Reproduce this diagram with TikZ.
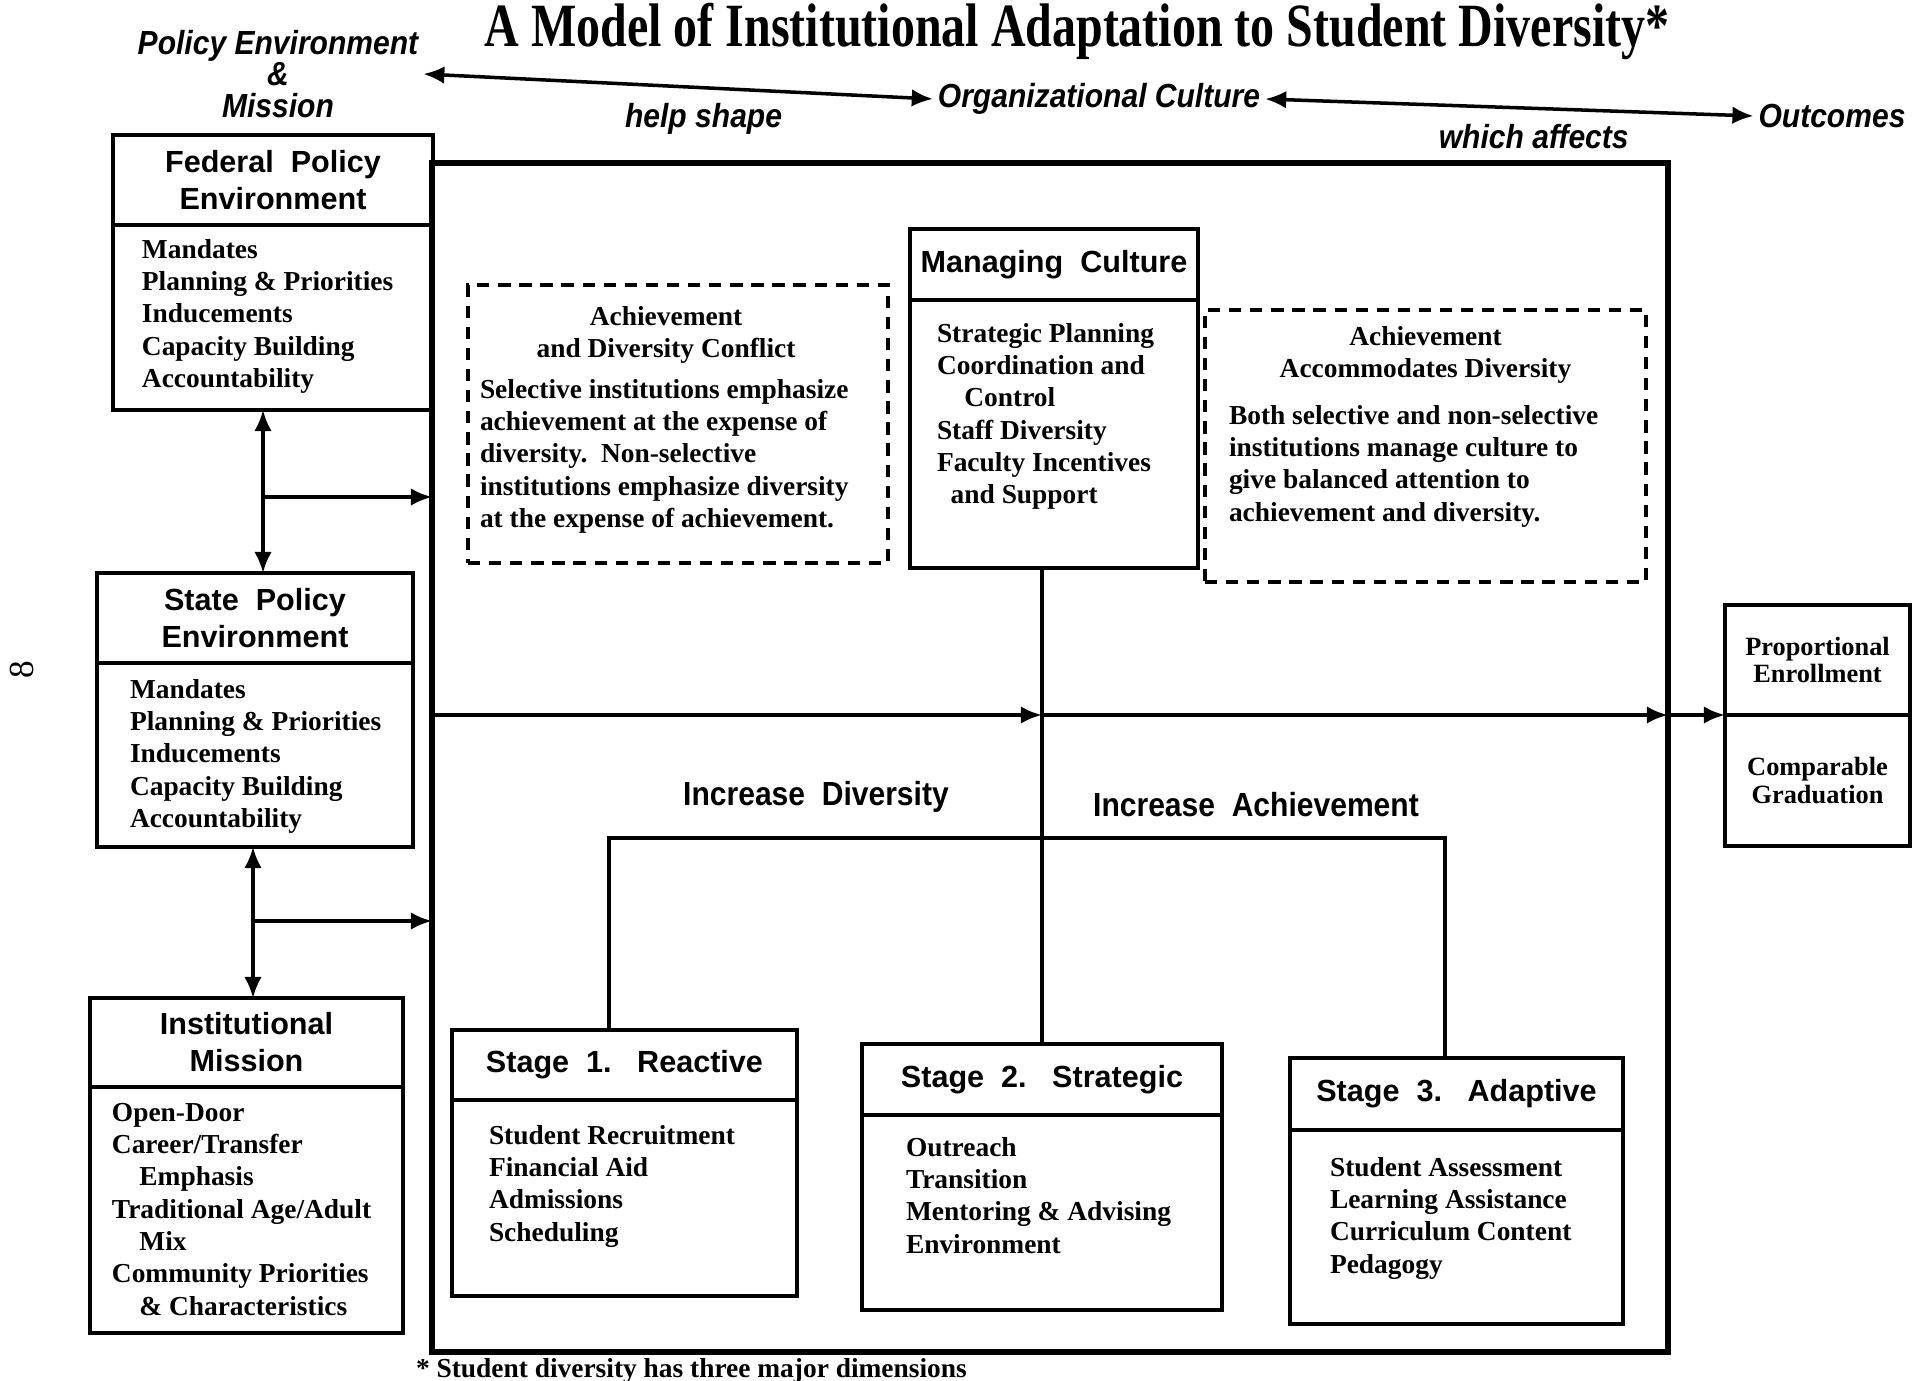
\documentclass[tikz,border=0pt]{standalone}
\usepackage{fontspec}
\setmainfont{Liberation Serif}
\newfontfamily\headfont{Liberation Sans}
\newfontfamily\tagfont[FakeStretch=0.9]{Liberation Sans}
\newfontfamily\titlefont[FakeStretch=0.78]{Liberation Serif}
\usetikzlibrary{positioning,arrows.meta}
\tikzstyle{every node}+=[inner sep=0.5mm,outer sep=0pt]
\tikzstyle{every path}+=[line width=1pt]
\tikzstyle{box}=[draw,line width=1.2pt,inner sep=0pt]
\tikzstyle{head}=[box,align=center,font=\headfont\bfseries\fontsize{8.7}{10.5}\selectfont]
\tikzstyle{items}=[inner sep=0pt,align=left,font=\bfseries\fontsize{7.8}{9.2}\selectfont]
\tikzstyle{note}=[draw,line width=1.1pt,dash pattern=on 3.5pt off 2.5pt,inner sep=0pt]
\tikzstyle{tag}=[font=\tagfont\bfseries\itshape\fontsize{9.5}{8.9}\selectfont]
\tikzstyle{tagup}=[font=\tagfont\bfseries\fontsize{9.5}{11}\selectfont]
\tikzstyle{arr}=[-{Latex[length=6pt,width=5pt]}]
\tikzstyle{dbl}=[{Latex[length=6pt,width=5pt]}-{Latex[length=6pt,width=5pt]}]

\begin{document}
\begin{tikzpicture}[x=1cm,y=-1cm]
\useasboundingbox (0,0) rectangle (19.16,13.81);

\node[font=\titlefont\bfseries\fontsize{17.5}{20}\selectfont,anchor=base] (title) at (10.77,0.47) {A Model of Institutional Adaptation to Student Diversity*};

\node[tag,align=center] (pol) at (2.78,0.74) {Policy Environment\\\&\\Mission};
\node[tag] (org) at (10.99,0.99) {Organizational Culture};
\node[tag] (out) at (18.32,1.16) {Outcomes};
\draw[dbl] (pol.east) -- (org.west) node[tag,pos=0.55,below=3pt] (help) {help shape};
\draw[dbl] (org.east) -- (out.west) node[tag,pos=0.55,below=3pt] (aff) {which affects};

\node[rotate=90,font=\fontsize{10}{12}\selectfont] (pg) at (0.22,6.70) {8};

\node[box,line width=1.5pt,minimum width=12.36cm,minimum height=11.89cm] (frame) at (10.50,7.575) {};

\node[head,minimum width=3.2cm,minimum height=0.9cm] (fedh) at (2.73,1.80) {Federal\ \ Policy\\Environment};
\node[box,minimum width=3.2cm,minimum height=1.85cm,below=0pt of fedh] (fed) {};
\node[items,below right=0.14cm and 0.29cm of fed.north west] (fedl) {Mandates\\Planning \& Priorities\\Inducements\\Capacity Building\\Accountability};

\node[head,minimum width=3.16cm,minimum height=0.9cm] (sth) at (2.55,6.18) {State\ \ Policy\\Environment};
\node[box,minimum width=3.16cm,minimum height=1.84cm,below=0pt of sth] (st) {};
\node[items,below right=0.16cm and 0.33cm of st.north west] (stl) {Mandates\\Planning \& Priorities\\Inducements\\Capacity Building\\Accountability};

\node[head,minimum width=3.13cm,minimum height=0.89cm] (insth) at (2.465,10.425) {Institutional\\Mission};
\node[box,minimum width=3.13cm,minimum height=2.46cm,below=0pt of insth] (inst) {};
\node[items,below right=0.16cm and 0.22cm of inst.north west] (instl) {Open-Door\\Career/Transfer\\\quad Emphasis\\Traditional Age/Adult\\\quad Mix\\Community Priorities\\\quad\& Characteristics};

\coordinate (j1) at (2.63,4.97);
\draw[dbl] (fed.south -| j1) -- (sth.north -| j1);
\draw[arr] (j1) -- (j1 -| frame.west);
\coordinate (j2) at (2.53,9.21);
\draw[dbl] (st.south -| j2) -- (insth.north -| j2);
\draw[arr] (j2) -- (j2 -| frame.west);

\node[note,minimum width=4.2cm,minimum height=2.78cm] (conf) at (6.78,4.24) {};
\node[items,align=center,below=0.21cm of conf.north,xshift=-0.12cm] (confh) {Achievement\\and Diversity Conflict};
\node[items,below right=0.94cm and 0.12cm of conf.north west] (confb) {Selective institutions emphasize\\achievement at the expense of\\diversity.\ \ Non-selective\\institutions emphasize diversity\\at the expense of achievement.};

\node[head,minimum width=2.88cm,minimum height=0.71cm] (mch) at (10.54,2.645) {Managing\ \ Culture};
\node[box,minimum width=2.88cm,minimum height=2.68cm,below=0pt of mch] (mc) {};
\node[items,below right=0.23cm and 0.27cm of mc.north west] (mcl) {Strategic Planning\\Coordination and\\\quad Control\\Staff Diversity\\Faculty Incentives\\\hspace*{0.5em}and Support};

\node[note,minimum width=4.41cm,minimum height=2.72cm] (acc) at (14.255,4.46) {};
\node[items,align=center,below=0.16cm of acc.north] (acch) {Achievement\\Accommodates Diversity};
\node[items,below right=0.95cm and 0.24cm of acc.north west] (accb) {Both selective and non-selective\\institutions manage culture to\\give balanced attention to\\achievement and diversity.};

\node[box,align=center,minimum width=1.85cm,minimum height=1.10cm,font=\bfseries\fontsize{7.5}{7.5}\selectfont] (outh) at (18.175,6.60) {Proportional\\Enrollment};
\node[box,align=center,minimum width=1.85cm,minimum height=1.31cm,font=\bfseries\fontsize{7.5}{7.8}\selectfont,below=0pt of outh] (outb) {Comparable\\Graduation};

\node[head,minimum width=3.45cm,minimum height=0.70cm] (s1h) at (6.245,10.65) {Stage\ \ 1.\ \ \ Reactive};
\node[box,minimum width=3.45cm,minimum height=1.96cm,below=0pt of s1h] (s1) {};
\node[items,below right=0.25cm and 0.37cm of s1.north west] (s1l) {Student Recruitment\\Financial Aid\\Admissions\\Scheduling};

\node[head,minimum width=3.60cm,minimum height=0.71cm] (s2h) at (10.42,10.795) {Stage\ \ 2.\ \ \ Strategic};
\node[box,minimum width=3.60cm,minimum height=1.95cm,below=0pt of s2h] (s2) {};
\node[items,below right=0.22cm and 0.44cm of s2.north west] (s2l) {Outreach\\Transition\\Mentoring \& Advising\\Environment};

\node[head,minimum width=3.33cm,minimum height=0.72cm] (s3h) at (14.565,10.94) {Stage\ \ 3.\ \ \ Adaptive};
\node[box,minimum width=3.33cm,minimum height=1.94cm,below=0pt of s3h] (s3) {};
\node[items,below right=0.27cm and 0.40cm of s3.north west] (s3l) {Student Assessment\\Learning Assistance\\Curriculum Content\\Pedagogy};

\draw[arr,line width=1.2pt] (frame.west |- outh.south) -- (s2h.north |- outh.south);
\draw[arr,line width=1.2pt] (s2h.north |- outh.south) -- (frame.east |- outh.south);
\draw[arr,line width=1.2pt] (frame.east |- outh.south) -- (outh.south west);
\draw (mc.south -| s2h.north) -- (s2h.north);

\node[tagup] (incd) at (8.16,7.97) {Increase\ \ Diversity};
\node[tagup] (inca) at (12.56,8.05) {Increase\ \ Achievement};
\coordinate (brl) at (6.09,8.38);
\coordinate (brr) at (14.45,8.38);
\draw (s1h.north -| brl) -- (brl) -- (brr) -- (s3h.north -| brr);

\node[items,anchor=north west] (fn) at (4.16,13.58) {* Student diversity has three major dimensions};
\end{tikzpicture}
\end{document}
